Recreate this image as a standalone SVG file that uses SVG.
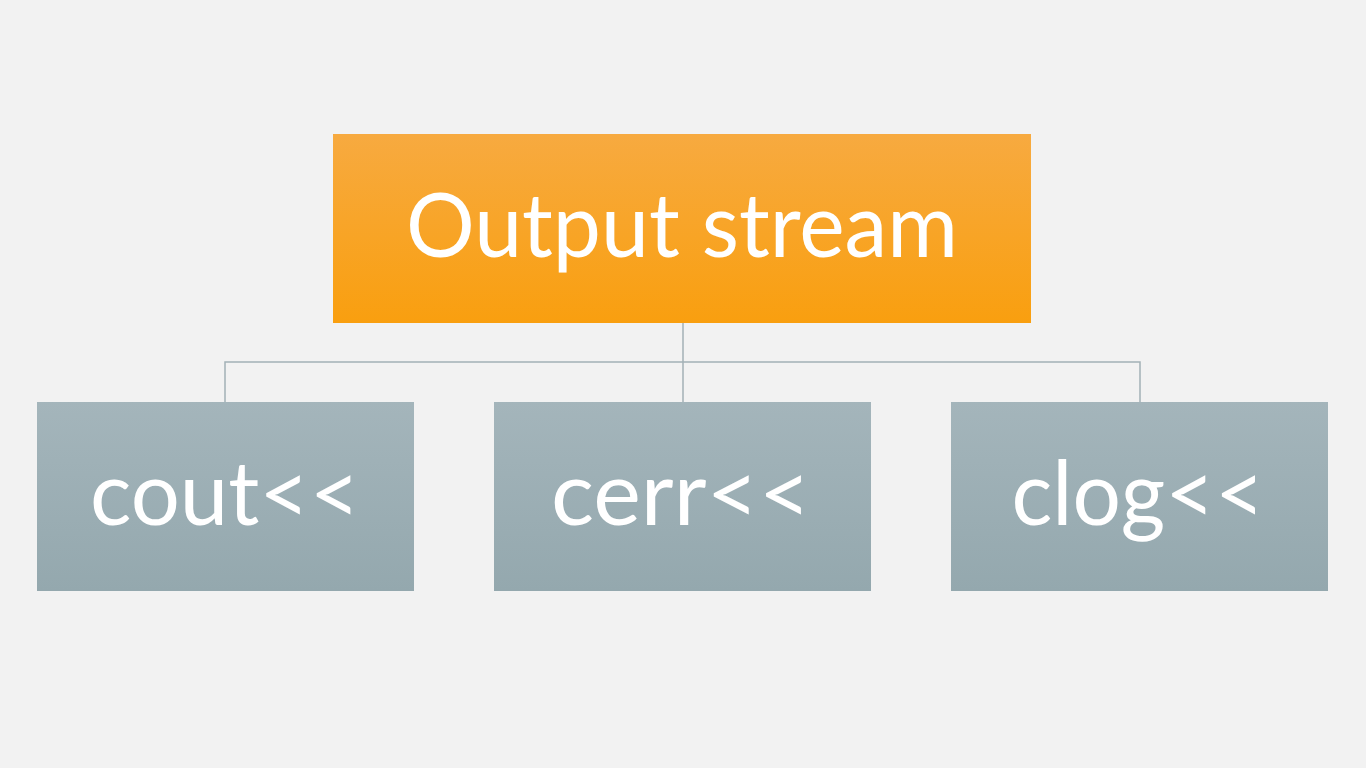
<svg xmlns="http://www.w3.org/2000/svg" width="1366" height="768" viewBox="0 0 1366 768">
  <defs>
    <linearGradient id="gOrange" x1="0" y1="0" x2="0" y2="1">
      <stop offset="0" stop-color="#F7AA40"/>
      <stop offset="1" stop-color="#F99F0F"/>
    </linearGradient>
    <linearGradient id="gGrey" x1="0" y1="0" x2="0" y2="1">
      <stop offset="0" stop-color="#A4B5BB"/>
      <stop offset="1" stop-color="#94A8AE"/>
    </linearGradient>
  </defs>
  <style>
    .lbl { font-family: "Lato", "Open Sans", "Liberation Sans", sans-serif; fill: #FFFFFF; text-anchor: middle; }
    .conn { stroke: #A3B1B6; stroke-width: 1.5; fill: none; }
  </style>
  <rect width="1366" height="768" fill="#F2F2F2"/>
  <g id="connectors">
    <path class="conn" d="M683,323 V362" stroke-width="2.5"/>
    <path class="conn" d="M225,402 V362 H1140 V402"/>
    <path class="conn" d="M683,362 V402"/>
  </g>
  <g id="node-output-stream">
    <rect x="333" y="134" width="698" height="189" fill="url(#gOrange)"/>
    <text class="lbl" x="682" y="257" font-size="90" textLength="552" lengthAdjust="spacingAndGlyphs">Output stream</text>
  </g>
  <g id="node-cout">
    <rect x="37" y="402" width="377" height="189" fill="url(#gGrey)"/>
    <text class="lbl" x="225" y="525" font-size="90" textLength="270" lengthAdjust="spacingAndGlyphs">cout&lt;&lt;</text>
  </g>
  <g id="node-cerr">
    <rect x="494" y="402" width="377" height="189" fill="url(#gGrey)"/>
    <text class="lbl" x="681" y="525" font-size="90" textLength="260" lengthAdjust="spacingAndGlyphs">cerr&lt;&lt;</text>
  </g>
  <g id="node-clog">
    <rect x="951" y="402" width="377" height="189" fill="url(#gGrey)"/>
    <text class="lbl" x="1138" y="525" font-size="90" textLength="253" lengthAdjust="spacingAndGlyphs">clog&lt;&lt;</text>
  </g>
</svg>
